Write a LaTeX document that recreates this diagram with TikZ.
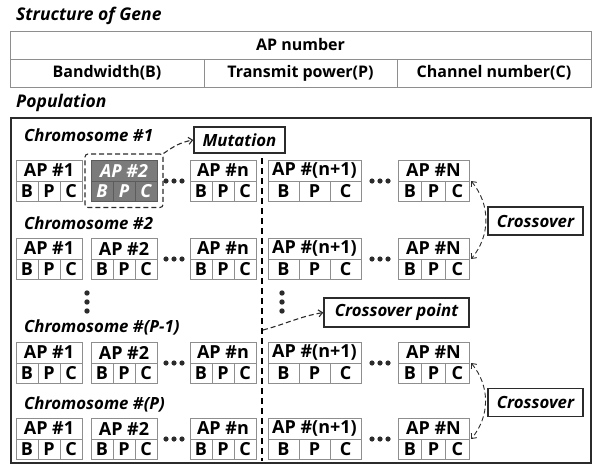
\documentclass[tikz,border=0pt]{standalone}
\usepackage{fontspec}
\setmainfont{Open Sans}
\usepackage{xcolor}
\usepackage{tikz}
\usetikzlibrary{positioning,fit,arrows.meta}

\definecolor{linegray}{HTML}{8E8E8E}
\definecolor{mutgray}{HTML}{7B7B7B}
\definecolor{mutline}{HTML}{5C5C5C}
\definecolor{inkgray}{HTML}{2B2B2B}

\newcommand\genefont{\fontsize{18}{19}\selectfont\bfseries}
\newcommand\labelfont{\fontsize{16.8}{18}\selectfont\bfseries\itshape}

\begin{document}
\begin{tikzpicture}[x=1pt, y=-1pt,
  heading/.style={anchor=west, inner sep=0pt, font=\fontsize{17.5}{19}\selectfont\bfseries\itshape},
  tabcell/.style={draw=linegray, line width=0.8pt, inner sep=0pt, outer sep=0pt, minimum height=28pt, anchor=north west, font=\fontsize{16}{18}\selectfont\bfseries},
  popbox/.style={draw=inkgray, line width=2pt, anchor=north west},
  aphead/.style={draw=linegray, line width=0.8pt, inner sep=0pt, outer sep=0pt, minimum height=21pt, anchor=north west, font=\genefont},
  bpc/.style={aphead, minimum height=20.5pt},
  plaingene/.style={},
  mutgene/.style={fill=mutgray, draw=mutline, text=white, font=\genefont\itshape},
  chromo/.style={anchor=west, inner sep=0pt, font=\labelfont},
  opbox/.style={draw=inkgray, line width=1.4pt, inner sep=0pt, font=\labelfont},
  dashline/.style={draw=inkgray, line width=1.1pt, dash pattern=on 5pt off 3pt},
  selbox/.style={dashline, rounded corners=3pt, inner sep=6pt},
  dasharrow/.style={dashline, -{Straight Barb[length=4pt,width=7pt]}},
  xarrow/.style={dashline, line width=0.9pt, {Straight Barb[length=4pt,width=7pt]}-{Straight Barb[length=4pt,width=7pt]}},
  cutline/.style={draw=black, line width=1.6pt, dash pattern=on 6pt off 4pt}
]
\useasboundingbox (0,0) rectangle (593,465);

% Gene structure
\node[heading] (genetitle) at (16,16) {Structure of Gene};
\node[tabcell, minimum width=581pt] (apnum) at (10,31) {AP number};
\node[tabcell, minimum width=194pt] (bw) at (apnum.south west) {Bandwidth(B)};
\node[tabcell, minimum width=193pt, right=0pt of bw] (tp) {Transmit power(P)};
\node[tabcell, minimum width=194pt, right=0pt of tp] (cn) {Channel number(C)};

% Population
\node[heading] (poptitle) at (16,103) {Population};
\node[popbox, minimum width=580pt, minimum height=345pt] (pop) at (10,117) {};

\foreach \r/\y/\ly/\cname in {1/160/135/{\#1}, 2/238/223/{\#2}, 3/342/327/{\#(P-1)}, 4/418/404/{\#(P)}}{
  \node[chromo] (chr\r) at (24,\ly) {Chromosome \cname};
  \foreach \c/\x/\w/\ap in {1/16/22/{\#1}, 2/91/22/{\#2}, 3/190/22/{\#n}, 4/268/31/{\#(n+1)}, 5/398/23.7/{\#N}}{
    \ifnum\r\c=12 \def\gsty{mutgene}\else\def\gsty{plaingene}\fi
    \node[aphead, minimum width=3*\w, \gsty] (ap\r\c) at (\x,\y) {AP \ap};
    \node[bpc, minimum width=\w, \gsty] (b\r\c) at (ap\r\c.south west) {B};
    \node[bpc, minimum width=\w, \gsty, right=0pt of b\r\c] (p\r\c) {P};
    \node[bpc, minimum width=\w, \gsty, right=0pt of p\r\c] (c\r\c) {C};
  }
  \foreach \x in {166,174,182,372,380,388} \fill[inkgray] (\x,\y+21) circle (2.6);
}

% vertical dots
\foreach \x in {87,282} \foreach \y in {293,302,311} \fill[inkgray] (\x,\y) circle (2.7);

% Mutation
\node[selbox, fit=(ap12)(c12)] (mutsel) {};
\node[opbox, minimum width=91pt, minimum height=26pt] (mutation) at (239.5,140) {Mutation};
\draw[dasharrow] (mutsel.north east) to[out=35,in=190] (mutation.west);

% Crossover point
\coordinate (cuttop) at (262,158);
\coordinate (cutbot) at (262,461);
\draw[cutline] (cuttop) -- (cutbot);
\node[opbox, minimum width=145pt, minimum height=29pt] (cpoint) at (396.5,312.5) {Crossover point};
\coordinate (cutpt) at (263,330);
\draw[dasharrow] (cutpt) to[out=15,in=190] (cpoint.west);

% Crossover
\node[opbox, minimum width=95pt, minimum height=28pt] (cross1) at (535.5,221) {Crossover};
\node[opbox, minimum width=95pt, minimum height=28pt] (cross2) at (535.5,402.5) {Crossover};
\draw[xarrow] ([xshift=2pt]ap15.south east) to[bend left=40] ([xshift=2pt]ap25.south east);
\draw[xarrow] ([xshift=2pt]ap35.south east) to[bend left=40] ([xshift=2pt]ap45.south east);
\end{tikzpicture}
\end{document}
